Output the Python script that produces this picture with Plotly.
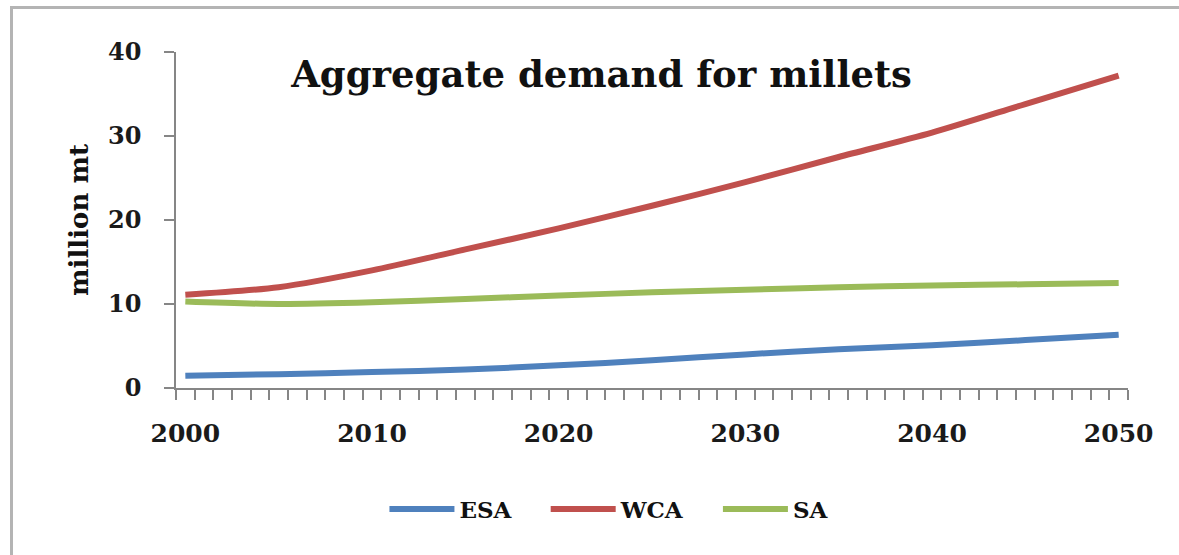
import plotly.graph_objects as go

# Projected aggregate demand for millets (million mt), read every five years
years = [2000, 2005, 2010, 2015, 2020, 2025, 2030, 2035, 2040, 2045, 2050]
esa = [1.45, 1.65, 1.9, 2.2, 2.7, 3.3, 4.0, 4.6, 5.1, 5.7, 6.35]
wca = [11.1, 12.0, 14.0, 16.5, 19.0, 21.7, 24.5, 27.5, 30.4, 33.8, 37.2]
sa = [10.3, 10.0, 10.2, 10.6, 11.0, 11.4, 11.7, 12.0, 12.2, 12.35, 12.5]

series_names = ["ESA", "WCA", "SA"]
series_values = [esa, wca, sa]
series_colors = ["#4F81BD", "#C0504D", "#9BBB59"]

x_tick_labels = ["2000", "2010", "2020", "2030", "2040", "2050"]
y_tick_values = [0, 10, 20, 30, 40]

SERIF = "'DejaVu Serif', 'Liberation Serif', serif"
GAP = "&nbsp;" * 4  # extra room between legend entries

fig = go.Figure()
for name, vals, col in zip(series_names, series_values, series_colors):
    fig.add_trace(go.Scatter(
        x=years, y=vals, name=f"<b>{name}</b>{GAP}", mode="lines",
        line=dict(color=col, width=6, shape="spline", smoothing=0.8),
    ))


def px_x(p):
    return (p - 176) / 952


def px_y(p):
    return (388 - p) / 336


# thin filled bands forming the frame at the top and left of the page
frame = [
    dict(type="rect", xref="paper", yref="paper",
         x0=px_x(10), x1=px_x(1179), y0=px_y(9), y1=px_y(6)),
    dict(type="rect", xref="paper", yref="paper",
         x0=px_x(10), x1=px_x(13), y0=px_y(555), y1=px_y(6)),
]
for s in frame:
    s.update(fillcolor="#b4b4b4", line=dict(width=0), layer="below")

fig.update_layout(
    width=1179, height=555,
    margin=dict(l=176, r=51, t=52, b=167),
    paper_bgcolor="white", plot_bgcolor="white",
    font=dict(family=SERIF, color="#1a1a1a"),
    title=dict(
        text="<b>Aggregate demand for millets</b>",
        font=dict(family=SERIF, size=37, color="#111111"),
        x=0.447, xref="paper", xanchor="center",
        y=1 - 74 / 555, yref="container", yanchor="middle",
    ),
    showlegend=True,
    legend=dict(
        orientation="h", x=0.47, xanchor="center",
        y=-0.36, yanchor="middle",
        font=dict(family=SERIF, size=23, color="#111111"),
        itemwidth=65, traceorder="normal",
        bgcolor="rgba(0,0,0,0)",
    ),
    shapes=frame,
)

fig.update_xaxes(
    range=[1999.5, 2050.5],
    tickmode="array",
    tickvals=[int(t) for t in x_tick_labels],
    ticktext=[f"<b>{t}</b>" for t in x_tick_labels],
    ticks="outside", ticklen=10, tickcolor="rgba(0,0,0,0)",
    ticklabelstandoff=12,
    tickfont=dict(family=SERIF, size=25, color="#1a1a1a"),
    minor=dict(ticks="outside", ticklen=10, tickcolor="#868686",
               tickwidth=1.5, tick0=1999.5, dtick=1, showgrid=False),
    showline=True, linecolor="#868686", linewidth=1.5,
    showgrid=False, zeroline=False, fixedrange=True,
)

fig.update_yaxes(
    range=[0, 40],
    tickmode="array", tickvals=y_tick_values,
    ticktext=[f"<b>{v}</b>" for v in y_tick_values],
    ticks="outside", ticklen=10, tickcolor="#868686", tickwidth=1.5,
    ticklabelstandoff=18,
    tickfont=dict(family=SERIF, size=24, color="#1a1a1a"),
    title=dict(text="<b>million mt</b>", standoff=12,
               font=dict(family=SERIF, size=26, color="#111111")),
    showline=True, linecolor="#868686", linewidth=1.5,
    showgrid=False, zeroline=False, fixedrange=True,
)

fig.write_html("out.html")
